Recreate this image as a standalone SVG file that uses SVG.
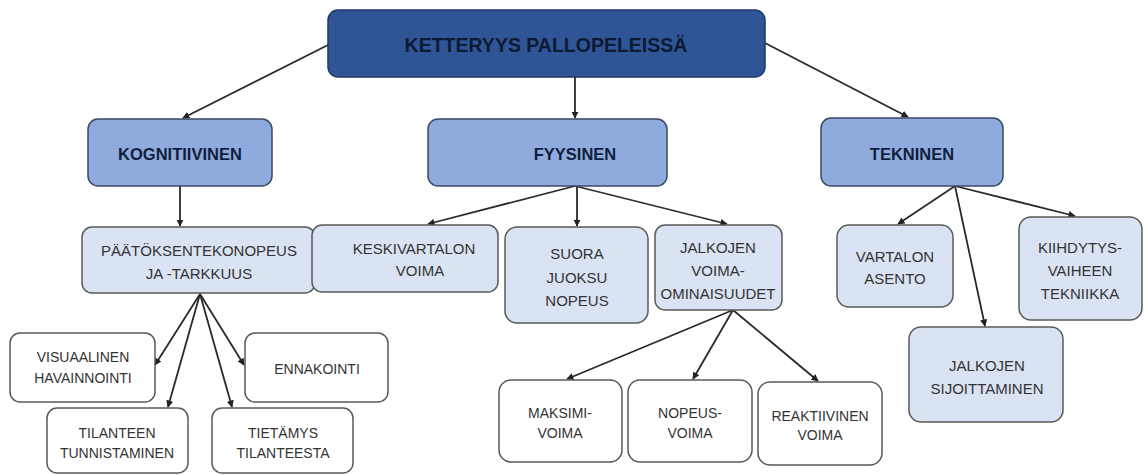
<svg xmlns="http://www.w3.org/2000/svg" width="1147" height="475" viewBox="0 0 1147 475">
<defs>
<marker id="ah" viewBox="0 0 10 10" refX="9" refY="5" markerWidth="4" markerHeight="4" orient="auto">
<path d="M0,0 L10,5 L0,10 z" fill="#222"/>
</marker>
<style>
.top{fill:#2f5597;stroke:#1f3864;stroke-width:1.5}
.l1{fill:#8faadc;stroke:#3a4a66;stroke-width:1.5}
.l2{fill:#dae3f3;stroke:#595959;stroke-width:1.5}
.l3{fill:#ffffff;stroke:#595959;stroke-width:1.5}
text{font-family:"Liberation Sans",Arial,sans-serif;text-anchor:middle;dominant-baseline:central}
.tt{font-size:19.5px;font-weight:bold;fill:#0c1a33}
.t1{font-size:16.5px;font-weight:bold;fill:#0f1f3d}
.t2{font-size:15px;fill:#333333}
.t3{font-size:14px;fill:#333333}
.c{stroke:#2a2a2a;stroke-width:1.8;fill:none;marker-end:url(#ah)}
</style>
</defs>
<rect width="1147" height="475" fill="#ffffff"/>
<g id="connectors">
<line class="c" x1="328" y1="45" x2="183" y2="118"/>
<line class="c" x1="575" y1="77" x2="575" y2="118"/>
<line class="c" x1="765" y1="43" x2="908" y2="117"/>
<line class="c" x1="180" y1="186" x2="180" y2="226"/>
<line class="c" x1="200" y1="294" x2="155" y2="365"/>
<line class="c" x1="200" y1="294" x2="168" y2="407"/>
<line class="c" x1="200" y1="294" x2="232" y2="407"/>
<line class="c" x1="200" y1="294" x2="244" y2="365"/>
<line class="c" x1="575" y1="186" x2="428" y2="224"/>
<line class="c" x1="577" y1="186" x2="577" y2="226"/>
<line class="c" x1="575" y1="186" x2="727" y2="224"/>
<line class="c" x1="733" y1="310" x2="567" y2="379"/>
<line class="c" x1="733" y1="310" x2="693" y2="379"/>
<line class="c" x1="733" y1="310" x2="818" y2="381"/>
<line class="c" x1="955" y1="186" x2="898" y2="224"/>
<line class="c" x1="955" y1="186" x2="985" y2="326"/>
<line class="c" x1="955" y1="186" x2="1075" y2="216"/>
</g>
<g id="n-root"><rect class="top" x="328" y="10" width="437" height="67" rx="10"/><text class="tt" x="546" y="45">KETTERYYS PALLOPELEISSÄ</text></g>
<g id="n-kognitiivinen"><rect class="l1" x="88" y="119" width="184" height="67" rx="10"/><text class="t1" x="180" y="154">KOGNITIIVINEN</text></g>
<g id="n-fyysinen"><rect class="l1" x="428" y="119" width="239" height="67" rx="10"/><text class="t1" x="575" y="154">FYYSINEN</text></g>
<g id="n-tekninen"><rect class="l1" x="821" y="118" width="182" height="68" rx="10"/><text class="t1" x="912" y="154">TEKNINEN</text></g>
<g id="n-paatos"><rect class="l2" x="82" y="227" width="233" height="66" rx="10"/><text class="t2" x="199" y="250">PÄÄTÖKSENTEKONOPEUS</text><text class="t2" x="199" y="273">JA -TARKKUUS</text></g>
<g id="n-visuaalinen"><rect class="l3" x="10" y="333" width="145" height="69" rx="10"/><text class="t3" x="83" y="357">VISUAALINEN</text><text class="t3" x="83" y="378">HAVAINNOINTI</text></g>
<g id="n-ennakointi"><rect class="l3" x="245" y="333" width="143" height="69" rx="10"/><text class="t3" x="317" y="369">ENNAKOINTI</text></g>
<g id="n-tilanteen"><rect class="l3" x="47" y="408" width="141" height="65" rx="10"/><text class="t3" x="117" y="433">TILANTEEN</text><text class="t3" x="117" y="453">TUNNISTAMINEN</text></g>
<g id="n-tietamys"><rect class="l3" x="212" y="408" width="141" height="65" rx="10"/><text class="t3" x="283" y="433">TIETÄMYS</text><text class="t3" x="283" y="453">TILANTEESTA</text></g>
<g id="n-keskivartalon"><rect class="l2" x="312" y="225" width="186" height="67" rx="10"/><text class="t2" x="414" y="248">KESKIVARTALON</text><text class="t2" x="420" y="270">VOIMA</text></g>
<g id="n-suora"><rect class="l2" x="505" y="227" width="143" height="96" rx="12"/><text class="t2" x="577" y="253">SUORA</text><text class="t2" x="577" y="277">JUOKSU</text><text class="t2" x="577" y="300">NOPEUS</text></g>
<g id="n-jalkojen"><rect class="l2" x="655" y="225" width="127" height="85" rx="10"/><text class="t2" x="718" y="247">JALKOJEN</text><text class="t2" x="718" y="270">VOIMA-</text><text class="t2" x="718" y="293">OMINAISUUDET</text></g>
<g id="n-maksimi"><rect class="l3" x="499" y="380" width="123" height="82" rx="12"/><text class="t3" x="560" y="413">MAKSIMI-</text><text class="t3" x="560" y="433">VOIMA</text></g>
<g id="n-nopeus"><rect class="l3" x="628" y="380" width="124" height="82" rx="12"/><text class="t3" x="690" y="413">NOPEUS-</text><text class="t3" x="690" y="433">VOIMA</text></g>
<g id="n-reaktiivinen"><rect class="l3" x="758" y="382" width="124" height="83" rx="12"/><text class="t3" x="820" y="416">REAKTIIVINEN</text><text class="t3" x="820" y="435">VOIMA</text></g>
<g id="n-vartalon"><rect class="l2" x="837" y="225" width="116" height="82" rx="12"/><text class="t2" x="895" y="256">VARTALON</text><text class="t2" x="895" y="278">ASENTO</text></g>
<g id="n-kiihdytys"><rect class="l2" x="1019" y="217" width="123" height="103" rx="12"/><text class="t2" x="1080" y="247">KIIHDYTYS-</text><text class="t2" x="1080" y="270">VAIHEEN</text><text class="t2" x="1080" y="293">TEKNIIKKA</text></g>
<g id="n-sijoittaminen"><rect class="l2" x="909" y="327" width="154" height="95" rx="12"/><text class="t2" x="987" y="365">JALKOJEN</text><text class="t2" x="987" y="388">SIJOITTAMINEN</text></g>
</svg>
